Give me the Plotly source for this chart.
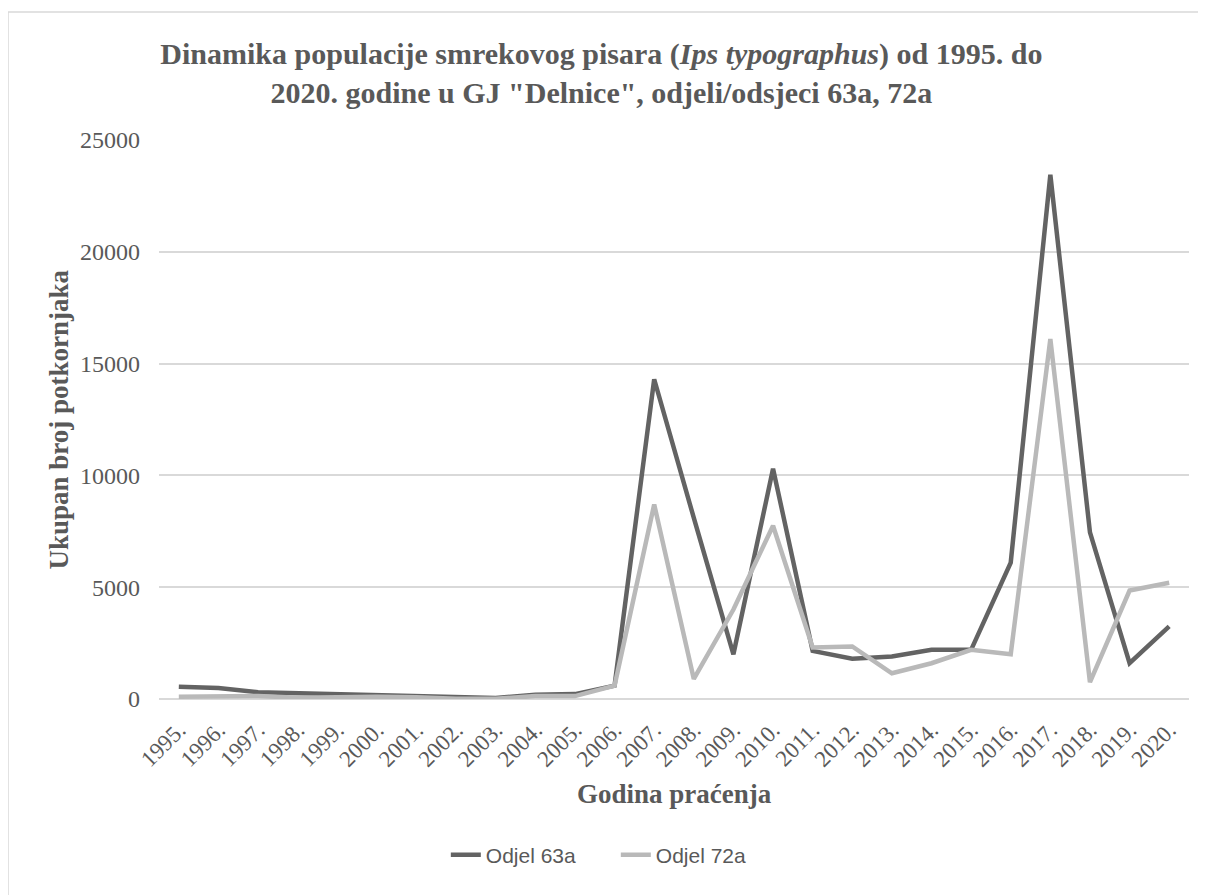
import plotly.graph_objects as go

# data
godine = [f"{g}." for g in range(1995, 2021)]
odjel_63a = [550, 490, 300, 250, 240, 190, 150, 75, 45, 190, 220, 600,
             14300, 8100, 2000, 10300, 2150, 1800, 1900, 2200, 2200, 6100,
             23450, 7450, 1600, 3250]
odjel_72a = [100, 110, 130, 60, 100, 100, 75, 15, 10, 130, 130, 600,
             8700, 900, 4000, 7750, 2300, 2350, 1150, 1600, 2200, 2000,
             16100, 750, 4850, 5200]
y_ticks = [0, 5000, 10000, 15000, 20000, 25000]

TXT = "#595959"
GRID = "#d9d9d9"
SERIF = "Liberation Serif, Times New Roman, serif"

# plot area in figure pixels
L, R, T, B = 151, 1181, 132, 691
W, H = R - L, B - T

fig = go.Figure()
fig.add_trace(go.Scatter(x=godine, y=odjel_63a, name="Odjel 63a", mode="lines",
                         line=dict(color="#636363", width=4.5)))
fig.add_trace(go.Scatter(x=godine, y=odjel_72a, name="Odjel 72a", mode="lines",
                         line=dict(color="#b9b9b9", width=4.5)))

fig.update_xaxes(
    type="category", range=[-0.5, 25.5], tickangle=-45, ticklabelstandoff=12,
    tickfont=dict(family=SERIF, size=23, color=TXT),
    showgrid=False, showline=False, ticks="",
)
fig.update_yaxes(
    range=[0, 25000], tickvals=y_ticks, tickformat="d", ticklabelstandoff=18,
    tickfont=dict(family=SERIF, size=24, color=TXT),
    gridcolor=GRID, gridwidth=1.5, zeroline=True, zerolinecolor=GRID, zerolinewidth=1.5,
    showline=False, ticks="",
)

fig.update_layout(
    width=1206, height=895,
    margin=dict(l=L, r=1206 - R, t=T, b=895 - B),
    plot_bgcolor="white", paper_bgcolor="white",
    title=dict(
        text="<b>Dinamika populacije smrekovog pisara (<i>Ips typographus</i>) od 1995. do<br>"
             "2020. godine u GJ \"Delnice\", odjeli/odsjeci 63a, 72a</b>",
        x=0.492, xanchor="center", y=1 - 56 / 895, yanchor="middle",
        font=dict(family=SERIF, size=30, color=TXT),
    ),
    annotations=[
        dict(text="<b>Godina praćenja</b>", xref="paper", yref="paper",
             x=0.5, y=(B - 786) / H, xanchor="center", yanchor="middle", showarrow=False,
             font=dict(family=SERIF, size=27, color=TXT)),
        dict(text="<b>Ukupan broj potkornjaka</b>", xref="paper", yref="paper",
             x=(50 - L) / W, y=0.5, xanchor="center", yanchor="middle", showarrow=False,
             textangle=-90, font=dict(family=SERIF, size=27, color=TXT)),
    ],
    legend=dict(orientation="h", x=0.504, xanchor="center", xref="container",
                y=1 - 847 / 895, yref="container", yanchor="middle",
                entrywidth=125, entrywidthmode="pixels",
                font=dict(family="Liberation Sans, Arial, sans-serif", size=21, color=TXT)),
    shapes=[dict(type="rect", xref="paper", yref="paper",
                 x0=(0 - L) / W, x1=(1230 - L) / W,
                 y0=(B - 920) / H, y1=(B - 4) / H,
                 line=dict(color=GRID, width=1.5), fillcolor="rgba(0,0,0,0)")],
)

fig.write_html("out.html")
